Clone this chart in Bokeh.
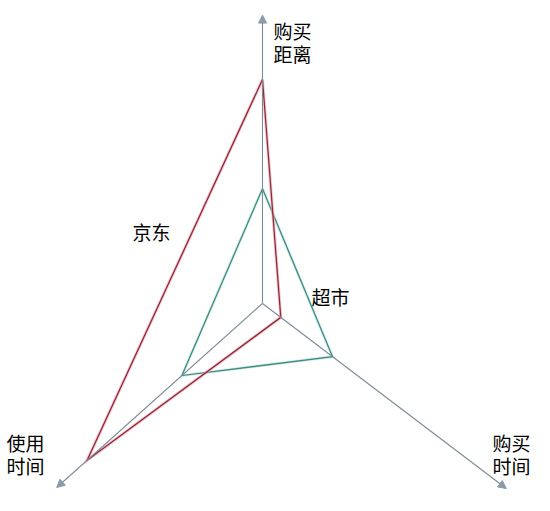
import math
from bokeh.plotting import figure
from bokeh.models import Range1d, Arrow, NormalHead
from bokeh.core.properties import value
from bokeh.embed import file_html
from bokeh.resources import INLINE

# ---- data ----
axis_names = ["购买距离", "使用时间", "购买时间"]
series_names = ["京东", "超市"]
jd_values = [8.0, 8.4, 0.82]
cs_values = [4.1, 3.86, 3.14]
axis_max = [10.3, 9.86, 10.93]

# ---- layout ----
W, H = 534, 495
angles = [90.0, 221.8, 322.8]
cx, cy = 262, 511 - 303
scale = 28.0
FONT = "Noto Sans CJK SC"

p = figure(width=W, height=H, output_backend="svg", toolbar_location=None,
           x_range=Range1d(0, W), y_range=Range1d(511 - H, 511),
           min_border=0)
p.axis.visible = False
p.grid.visible = False
p.outline_line_color = None
p.background_fill_color = "white"


def pt(i, v):
    a = math.radians(angles[i])
    return cx + v * scale * math.cos(a), cy + v * scale * math.sin(a)


# axes with arrows
axis_col = "#7e8a94"
for i in range(3):
    ex, ey = pt(i, axis_max[i])
    p.add_layout(Arrow(x_start=cx, y_start=cy, x_end=ex, y_end=ey,
                       line_color=axis_col, line_width=1.1,
                       end=NormalHead(size=8, fill_color="#8a9aa8",
                                      line_color="#8a9aa8")))


def poly(vals, core, halo):
    xs, ys = [], []
    for i, v in enumerate(vals):
        x, y = pt(i, v)
        xs.append(x)
        ys.append(y)
    xs.append(xs[0])
    ys.append(ys[0])
    p.line(xs, ys, line_color=halo, line_width=3.2, line_alpha=0.6,
           line_join="miter")
    p.line(xs, ys, line_color=core, line_width=1.3, line_join="miter")


poly(cs_values, "#3f8a82", "#c6e6e1")
poly(jd_values, "#8c2a3a", "#f2a9b6")

# axis labels (two lines each)
lbl_x = [273, 6, 492]
lbl_y = [511 - 16, 511 - 428, 511 - 428]
lx, ly, lt = [], [], []
for i, name in enumerate(axis_names):
    lx += [lbl_x[i], lbl_x[i]]
    ly += [lbl_y[i], lbl_y[i] - 23]
    lt += [name[:2], name[2:]]
p.text(x=lx, y=ly, text=lt, text_font=value(FONT), text_font_size="19px",
       text_color="#000000", text_baseline="top", text_align="left")

# series labels
p.text(x=[132, 311], y=[511 - 217, 511 - 282], text=series_names,
       text_font=value(FONT), text_font_size="19px", text_color="#000000",
       text_baseline="top", text_align="left")

open("out.html", "w").write(file_html(p, INLINE))
